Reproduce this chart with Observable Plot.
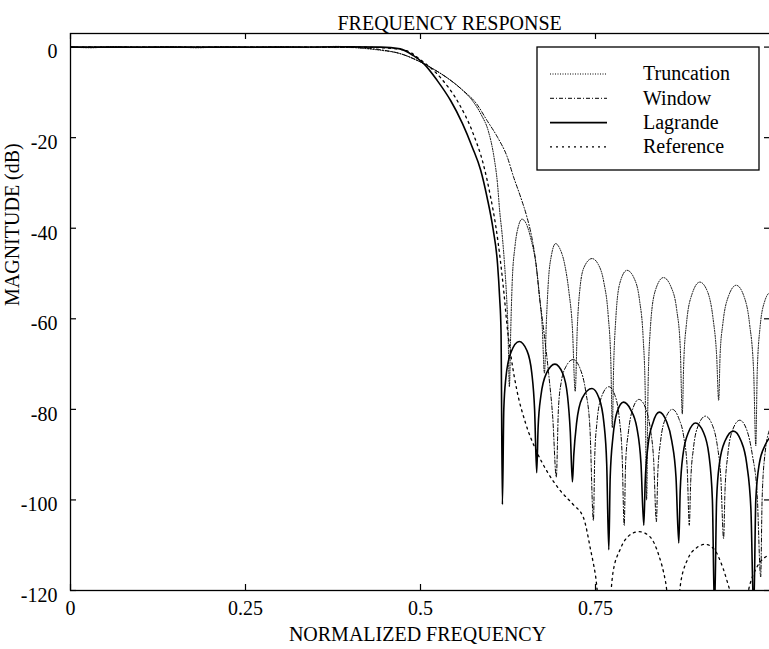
<!DOCTYPE html>
<html><head><meta charset="utf-8">
<script src="https://cdn.jsdelivr.net/npm/d3@7"></script>
<script src="https://cdn.jsdelivr.net/npm/@observablehq/plot@0.6"></script>
<style>body{margin:0;background:#fff} svg{display:block}</style>
</head><body><div id="chart"></div>
<script>
const titleText = "FREQUENCY RESPONSE";
const xLabel = "NORMALIZED FREQUENCY";
const yLabel = "MAGNITUDE (dB)";
const xTicks = [0, 0.25, 0.5, 0.75];
const xTickLabels = ["0", "0.25", "0.5", "0.75"];
const yTicks = [0, -20, -40, -60, -80, -100, -120];
const yTickLabels = ["0", "-20", "-40", "-60", "-80", "-100", "-120"];
const seriesNames = ["Truncation", "Window", "Lagrande", "Reference"];

// [normalized frequency, magnitude dB]
const truncation = [
[0,0],[0.03,-0.15],[0.06,0.1],[0.1,-0.1],[0.14,0.1],[0.18,-0.15],[0.22,0.05],[0.26,-0.1],[0.3,0.1],[0.34,-0.1],[0.38,0.15],[0.42,-0.3],
[0.443,-0.7],[0.47,-1.4],[0.5,-3.3],[0.52,-5],[0.54,-7],[0.56,-9.5],[0.575,-12],[0.587,-15],[0.597,-18.6],[0.605,-24.3],
[0.61,-30.2],[0.613,-36],[0.617,-42],[0.62,-47.8],[0.623,-55.2],[0.625,-62.5],[0.627,-75],
[0.629,-62],[0.631,-52],[0.635,-44],[0.64,-39.5],[0.645,-38],[0.651,-39],[0.658,-42.5],[0.665,-48],[0.67,-55],[0.674,-62],[0.677,-72],
[0.68,-60],[0.683,-51],[0.687,-46],[0.693,-43.4],[0.699,-44.5],[0.706,-48],[0.712,-54],[0.717,-62],[0.721,-76],
[0.724,-62],[0.728,-53],[0.734,-48.5],[0.745,-46.7],[0.754,-48],[0.762,-52],[0.768,-59],[0.772,-70],[0.774,-84],
[0.776,-70],[0.779,-60],[0.785,-52],[0.795,-49.3],[0.805,-51],[0.813,-56],[0.818,-64],[0.821,-76],[0.823,-100],
[0.825,-76],[0.828,-63],[0.835,-54],[0.847,-50.9],[0.858,-53],[0.866,-58],[0.871,-66],[0.874,-81],
[0.876,-70],[0.88,-61],[0.888,-54.5],[0.899,-51.9],[0.91,-54],[0.918,-60],[0.923,-68],[0.926,-78],
[0.928,-68],[0.932,-61],[0.94,-55],[0.951,-52.6],[0.962,-55],[0.97,-61],[0.976,-72],[0.979,-88],
[0.981,-72],[0.985,-62],[0.992,-56],[1.0,-54]
];
const windowed = [
[0,0],[0.1,0],[0.2,0],[0.3,0],[0.4,-0.1],[0.443,-0.6],[0.47,-1.4],[0.5,-3.3],[0.52,-5],[0.54,-7],[0.56,-9.5],[0.58,-12.5],
[0.595,-16.2],[0.61,-19.9],[0.624,-24.3],[0.633,-28.7],[0.643,-33.1],[0.652,-37.5],[0.659,-42],[0.665,-47.8],[0.67,-55.2],[0.676,-62.5],
[0.683,-72],[0.689,-82],[0.694,-95],
[0.697,-80],[0.701,-74],[0.708,-70.5],[0.718,-69],[0.728,-71],[0.736,-76],[0.742,-84],[0.747,-104.5],
[0.749,-90],[0.752,-83],[0.758,-77.5],[0.769,-75],[0.778,-77],[0.784,-82],[0.788,-90],[0.791,-105.6],
[0.793,-92],[0.797,-85],[0.803,-80],[0.812,-77.8],[0.821,-79.5],[0.828,-84],[0.833,-91],[0.837,-104.8],
[0.839,-94],[0.843,-87],[0.85,-82],[0.86,-80],[0.869,-82],[0.876,-86],[0.881,-93],[0.884,-105.6],
[0.886,-96],[0.89,-88.5],[0.897,-83.5],[0.907,-81.5],[0.917,-83.5],[0.924,-88],[0.929,-95],[0.933,-108.5],
[0.935,-98],[0.939,-90],[0.946,-84.5],[0.956,-82.4],[0.966,-84.5],[0.974,-90],[0.981,-99],[0.986,-117],
[0.988,-100],[0.992,-90],[1.0,-84]
];
const lagrande = [
[0,0],[0.1,0],[0.2,0],[0.3,0],[0.4,0.05],[0.443,0],[0.471,-0.4],[0.49,-1.9],[0.505,-3.7],[0.524,-7.4],[0.543,-11.8],[0.56,-16.9],
[0.574,-22.1],[0.586,-27.2],[0.595,-33.1],[0.604,-40.5],[0.61,-47.8],[0.613,-55.2],[0.615,-62.5],[0.617,-101],
[0.619,-80],[0.622,-73],[0.629,-67.5],[0.641,-65],[0.652,-67],[0.659,-72],[0.663,-80],[0.666,-94],
[0.668,-84],[0.672,-77],[0.68,-72],[0.692,-70],[0.703,-72],[0.71,-77],[0.714,-85],[0.717,-96],
[0.719,-90],[0.723,-83],[0.731,-77.5],[0.745,-75.4],[0.755,-77.5],[0.762,-83],[0.766,-92],[0.769,-111],
[0.771,-95],[0.775,-86],[0.781,-80.5],[0.79,-78.4],[0.8,-80],[0.809,-84],[0.815,-92],[0.819,-105.6],
[0.821,-96],[0.825,-88],[0.832,-83],[0.841,-80.6],[0.851,-82.5],[0.859,-87],[0.865,-95],[0.869,-109.5],
[0.871,-98],[0.875,-90],[0.883,-85],[0.893,-83],[0.904,-85],[0.912,-90],[0.917,-100],[0.92,-125],
[0.923,-100],[0.927,-92],[0.935,-87],[0.947,-84.8],[0.958,-87],[0.966,-92],[0.972,-102],[0.976,-125],
[0.979,-100],[0.984,-92],[0.992,-88],[1.0,-86]
];
const reference = [
[0,0],[0.2,0],[0.4,0],[0.45,-0.2],[0.48,-0.8],[0.5,-2.8],[0.53,-7],[0.555,-12.5],[0.575,-19],[0.59,-26],[0.6,-33],[0.608,-40],
[0.614,-47],[0.619,-54],[0.624,-62],[0.63,-69],[0.638,-76],[0.65,-83],[0.665,-89],[0.682,-94],[0.7,-98],[0.718,-101],[0.733,-104],
[0.743,-111],[0.75,-116.7],[0.757,-125],
[0.768,-125],[0.775,-116],[0.785,-111],[0.797,-108],[0.812,-107],[0.827,-108],[0.84,-112],[0.85,-118],[0.857,-125],
[0.866,-125],[0.872,-118],[0.882,-113],[0.895,-110.5],[0.907,-109.8],[0.92,-111],[0.932,-115],[0.942,-120],[0.952,-125],
[0.962,-125],[0.97,-119],[0.98,-115],[1.0,-112]
];

const styles = {
  Truncation: {strokeWidth: 1, strokeDasharray: "1,1.5"},
  Window: {strokeWidth: 1, strokeDasharray: "4,2,1,2"},
  Lagrande: {strokeWidth: 1.6, strokeDasharray: null},
  Reference: {strokeWidth: 1.3, strokeDasharray: "2,4"}
};
const seriesData = [truncation, windowed, lagrande, reference];

const font = "'Liberation Serif', 'Times New Roman', serif";
const xOf = d => d[0], yOf = d => d[1];

const marks = [];
seriesNames.forEach((name, i) => {
  marks.push(Plot.line(seriesData[i], {x: xOf, y: yOf, stroke: "black", clip: true, curve: "monotone-x",
    strokeWidth: styles[name].strokeWidth, strokeDasharray: styles[name].strokeDasharray}));
});
marks.push(
  Plot.frame({stroke: "black", strokeWidth: 1.3}),
  // inward ticks
  Plot.ruleX(xTicks, {x: d => d, y1: -120, y2: -120, insetTop: -6, stroke: "black", strokeWidth: 1.2}),
  Plot.ruleX(xTicks, {x: d => d, y1: 3, y2: 3, insetBottom: -6, stroke: "black", strokeWidth: 1.2}),
  Plot.ruleY(yTicks, {y: d => d, x1: 0, x2: 0, insetRight: -6, stroke: "black", strokeWidth: 1.2}),
  Plot.ruleY(yTicks, {y: d => d, x1: 1, x2: 1, insetLeft: -6, stroke: "black", strokeWidth: 1.2}),
  Plot.axisX(xTicks, {anchor: "bottom", tickSize: 0, tickPadding: 10, tickFormat: d => xTickLabels[xTicks.indexOf(d)], label: null, fill: "black"}),
  Plot.axisY(yTicks, {anchor: "left", tickSize: 0, tickPadding: 13, dy: 5, tickFormat: d => yTickLabels[yTicks.indexOf(d)], label: null, fill: "black"}),
  Plot.text([xLabel], {frameAnchor: "bottom", dx: -3, dy: 50, fill: "black"}),
  Plot.text([yLabel], {frameAnchor: "left", dx: -58, dy: -6, rotate: -90, fill: "black"}),
  Plot.text([titleText], {frameAnchor: "top-left", dx: 267, dy: -18, textAnchor: "start", fill: "black"})
);

const chart = Plot.plot({
  width: 769, height: 649,
  marginTop: 33, marginBottom: 59, marginLeft: 70, marginRight: -1,
  x: {domain: [0, 1]},
  y: {domain: [-120, 3]},
  style: {fontFamily: font, fontSize: "20px", background: "white", color: "black"},
  marks
});
document.getElementById("chart").appendChild(chart);

// legend box
const svg = d3.select(chart);
const lg = svg.append("g");
const box = {x: 537, y: 47, w: 222, h: 123};
lg.append("rect").attr("x", box.x).attr("y", box.y).attr("width", box.w).attr("height", box.h)
  .attr("fill", "white").attr("stroke", "black").attr("stroke-width", 1.3);
seriesNames.forEach((name, i) => {
  const cy = box.y + 27 + i * 24.3;
  lg.append("line").attr("x1", box.x + 13).attr("x2", box.x + 70).attr("y1", cy).attr("y2", cy)
    .attr("stroke", "black").attr("stroke-width", styles[name].strokeWidth)
    .attr("stroke-dasharray", styles[name].strokeDasharray);
  lg.append("text").attr("x", box.x + 106).attr("y", cy).attr("dy", "0.32em")
    .attr("text-anchor", "start")
    .attr("font-family", font).attr("font-size", 20).attr("fill", "black").text(name);
});
</script>
</body></html>
